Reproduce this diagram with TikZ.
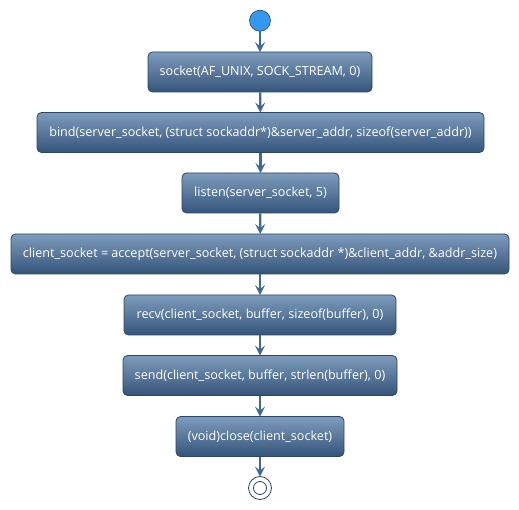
\documentclass[tikz,border=0pt]{standalone}
\usepackage{fontspec}
\setmainfont{Open Sans}
\usetikzlibrary{arrows.meta}
\definecolor{boxtop}{HTML}{7E9CBC}
\definecolor{boxbot}{HTML}{34547A}
\definecolor{boxline}{HTML}{2A4666}
\definecolor{arrowc}{HTML}{3D6897}
\definecolor{startc}{HTML}{3399F0}
\tikzset{
  act/.style={rectangle, rounded corners=4.5pt, draw=boxline, line width=0.8pt,
    top color=boxtop, bottom color=boxbot, text=white, font=\fontsize{12.6}{14}\selectfont,
    minimum height=40pt, inner xsep=0pt, anchor=center},
  flow/.style={draw=arrowc, line width=2.2pt, -{Stealth[length=10pt,width=10pt,inset=4pt]}, shorten >=-0.5pt},
}
\begin{document}
\begin{tikzpicture}[x=1pt,y=1pt]
\useasboundingbox (0,0) rectangle (519,-510);
\node[circle, fill=startc, draw=boxline, line width=0.6pt, minimum size=21pt, inner sep=0pt] (start) at (260,-20.7) {};
\node[act, minimum width=224pt] (a1) at (260,-72) {socket(AF\_UNIX, SOCK\_STREAM, 0)};
\node[act, minimum width=447pt] (a2) at (260.5,-132.5) {bind(server\_socket, (struct sockaddr*)\&server\_addr, sizeof(server\_addr))};
\node[act, minimum width=157pt] (a3) at (260.5,-193) {listen(server\_socket, 5)};
\node[act, minimum width=498pt] (a4) at (260,-254) {client\_socket = accept(server\_socket, (struct sockaddr *)\&client\_addr, \&addr\_size)};
\node[act, minimum width=272pt] (a5) at (260,-315) {recv(client\_socket, buffer, sizeof(buffer), 0)};
\node[act, minimum width=274pt] (a6) at (260,-375.5) {send(client\_socket, buffer, strlen(buffer), 0)};
\node[act, minimum width=168pt] (a7) at (260,-436.5) {(void)close(client\_socket)};
\node[circle, draw=boxline, line width=0.8pt, minimum size=23pt, inner sep=0pt, fill=white] (stop) at (260,-488) {};
\node[circle, draw=boxline, line width=0.8pt, minimum size=13pt, inner sep=0pt] (stopin) at (stop.center) {};
\draw[flow] (start) -- (a1);
\draw[flow] (a1) -- (a2);
\draw[flow] (a2) -- (a3);
\draw[flow] (a3) -- (a4);
\draw[flow] (a4) -- (a5);
\draw[flow] (a5) -- (a6);
\draw[flow] (a6) -- (a7);
\draw[flow] (a7) -- (stop);
\end{tikzpicture}
\end{document}
